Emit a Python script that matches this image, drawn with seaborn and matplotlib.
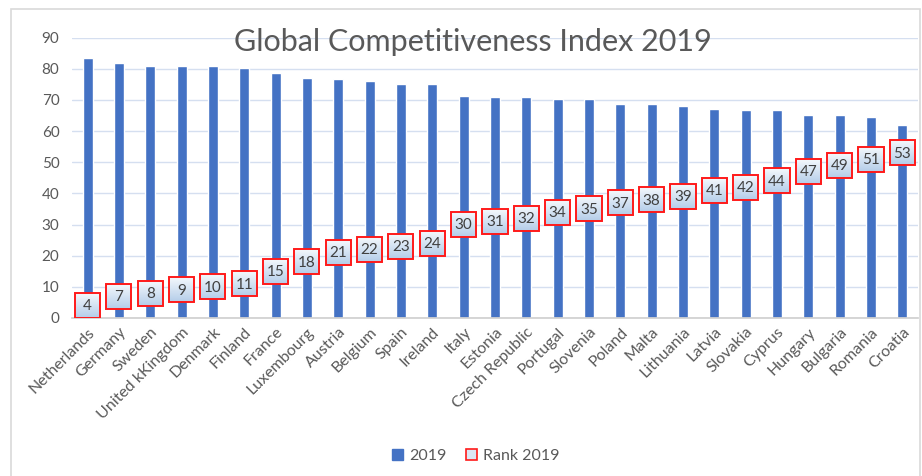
import numpy as np
import pandas as pd
import matplotlib
matplotlib.use("Agg")
import matplotlib.pyplot as plt
import seaborn as sns
from matplotlib.patches import Rectangle, Patch
from matplotlib.colors import LinearSegmentedColormap

countries = ["Netherlands", "Germany", "Sweden", "United kKingdom", "Denmark", "Finland",
             "France", "Luxembourg", "Austria", "Belgium", "Spain", "Ireland", "Italy",
             "Estonia", "Czech Republic", "Portugal", "Slovenia", "Poland", "Malta",
             "Lithuania", "Latvia", "Slovakia", "Cyprus", "Hungary", "Bulgaria",
             "Romania", "Croatia"]
gci_2019 = [83.4, 81.8, 80.8, 80.8, 80.8, 80.2, 78.7, 77.0, 76.7, 76.2, 75.2, 75.1, 71.4,
            70.9, 70.9, 70.4, 70.3, 68.7, 68.7, 68.2, 67.1, 66.6, 66.6, 65.0, 65.0,
            64.5, 61.9]
rank_2019 = [4, 7, 8, 9, 10, 11, 15, 18, 21, 22, 23, 24, 30, 31, 32, 34, 35, 37, 38, 39,
             41, 42, 44, 47, 49, 51, 53]
y_ticks = [0, 10, 20, 30, 40, 50, 60, 70, 80, 90]

BAR_BLUE = "#4472c4"
TEXT_GRAY = "#595959"

sns.set_theme(style="white")
plt.rcParams["font.family"] = ["Lato", "DejaVu Sans"]

df = pd.DataFrame({"Country": countries, "2019": gci_2019, "Rank 2019": rank_2019})

fig = plt.figure(figsize=(9.22, 4.76), dpi=100)
ax = fig.add_axes([0.078, 0.332, 0.9177, 0.589])

sns.barplot(data=df, x="Country", y="2019", color=BAR_BLUE, width=0.32,
            saturation=1, ax=ax, zorder=2)

# rank labels: gradient-filled boxes with red border, centred on the rank value
box_w, box_h = 0.8, 8.0
grad_cmap = LinearSegmentedColormap.from_list("box", ["#f4f8fc", "#b4cde9"])
grad = np.linspace(0, 1, 64).reshape(-1, 1)
for i, r in enumerate(df["Rank 2019"]):
    ax.imshow(grad, cmap=grad_cmap, aspect="auto", origin="upper",
              extent=[i - box_w / 2, i + box_w / 2, r - box_h / 2, r + box_h / 2],
              zorder=4)
    ax.add_patch(Rectangle((i - box_w / 2, r - box_h / 2), box_w, box_h, fill=False,
                           edgecolor="#ff1a1a", linewidth=1.4, zorder=5))
    ax.text(i, r - 0.3, str(r), ha="center", va="center", fontsize=11, color="#404040",
            zorder=6)

ax.set_xlim(-0.5, len(countries) - 0.5)
ax.set_ylim(0, 90)
ax.set_yticks(y_ticks)
ax.yaxis.grid(True, color="#d5dff0", linewidth=1, zorder=0)
ax.set_axisbelow(True)
ax.set_xlabel("")
ax.set_ylabel("")
for side in ["top", "right", "left"]:
    ax.spines[side].set_visible(False)
ax.spines["bottom"].set_color("#d0d0d0")
ax.tick_params(axis="both", length=0, colors=TEXT_GRAY)
ax.tick_params(axis="y", pad=9, labelsize=11)
ax.tick_params(axis="x", pad=5, labelsize=11.5)
plt.setp(ax.get_xticklabels(), rotation=45, ha="right", rotation_mode="anchor")

fig.text(0.513, 0.912, "Global Competitiveness Index 2019", ha="center", va="center",
         fontsize=22, color=TEXT_GRAY)

handles = [Patch(facecolor=BAR_BLUE, edgecolor=BAR_BLUE, label="2019"),
           Patch(facecolor="#dbe7f5", edgecolor="#ff1a1a", linewidth=1.2, label="Rank 2019")]
fig.legend(handles=handles, loc="center", bbox_to_anchor=(0.516, 0.042), ncol=2,
           frameon=False, handlelength=0.7, handleheight=0.7, handletextpad=0.4,
           columnspacing=1.2, fontsize=11.5, labelcolor=TEXT_GRAY)

fig.patches.append(Rectangle((11 / 922, -0.02), (920 - 11) / 922, (476 - 9) / 476 + 0.02,
                             transform=fig.transFigure, fill=False,
                             edgecolor="#d9d9d9", linewidth=1.2))

fig.savefig("out.png", dpi=100)
